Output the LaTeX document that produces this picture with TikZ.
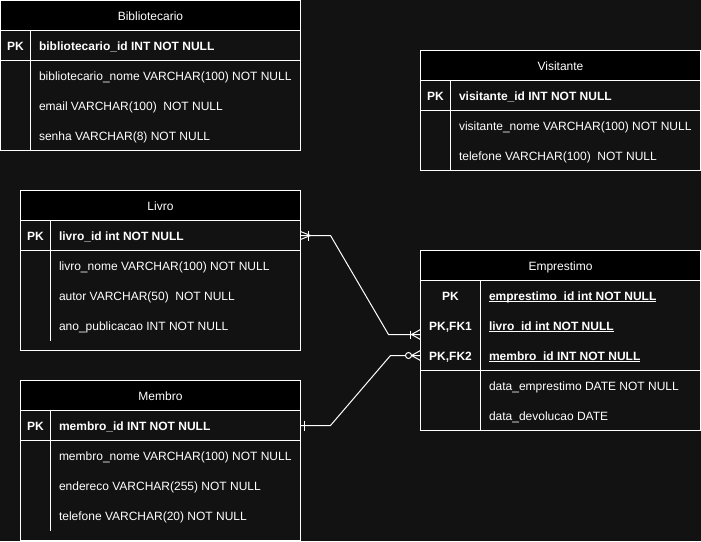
\documentclass[tikz,border=0pt]{standalone}
\usepackage{fontspec}
\setmainfont{Liberation Sans}
\usepackage{tikz}
\usetikzlibrary{positioning}
\definecolor{canvas}{HTML}{121212}
\def\fsz{\fontsize{12pt}{14pt}\selectfont}
\def\keyline#1{\setbox0\hbox{#1}\rlap{\rule[-1.6pt]{\wd0}{0.8pt}}\box0}

\begin{document}
\begin{tikzpicture}[x=1pt, y=1pt, line width=1pt, white, font=\fsz,
	title/.style={draw=white, fill=black, minimum height=30pt, inner sep=0pt, outer sep=0pt, text height=10pt, text depth=0pt, anchor=north west},
	field/.style={inner sep=0pt, text height=10pt, text depth=0pt, anchor=west},
	keyfield/.style={field, font=\fsz\bfseries},
	keytag/.style={inner sep=0pt, text height=10pt, text depth=0pt, font=\fsz\bfseries}]
	\fill[canvas] (-0.5pt, 0.5pt) rectangle (700.5pt, -540.5pt);
	\useasboundingbox (-0.5pt, 0.5pt) rectangle (700.5pt, -540.5pt);
	% Bibliotecario
	\node[title, minimum width=300pt] (bib) at (0pt, 0pt) {Bibliotecario};
	\draw (bib.south west) rectangle (300pt, -150pt);
	\draw (0pt, -60pt) -- (300pt, -60pt);
	\draw (30pt, -30pt) -- (30pt, -150pt);
	\node[keytag] (bib-pk) at (15pt, -45pt) {PK};
	\node[keyfield] (bib-id) at (38pt, -45pt) {bibliotecario\_id INT NOT NULL};
	\node[field] (bib-nome) at (38pt, -75pt) {bibliotecario\_nome VARCHAR(100) NOT NULL};
	\node[field] (bib-email) at (38pt, -105pt) {email VARCHAR(100) \ NOT NULL};
	\node[field] (bib-senha) at (38pt, -135pt) {senha VARCHAR(8) NOT NULL};
	% Visitante
	\node[title, minimum width=280pt] (vis) at (420pt, -50pt) {Visitante};
	\draw (vis.south west) rectangle (700pt, -170pt);
	\draw (420pt, -110pt) -- (700pt, -110pt);
	\draw (450pt, -80pt) -- (450pt, -170pt);
	\node[keytag] (vis-pk) at (435pt, -95pt) {PK};
	\node[keyfield] (vis-id) at (458pt, -95pt) {visitante\_id INT NOT NULL};
	\node[field] (vis-nome) at (458pt, -125pt) {visitante\_nome VARCHAR(100) NOT NULL};
	\node[field] (vis-tel) at (458pt, -155pt) {telefone VARCHAR(100) \ NOT NULL};
	% Livro
	\node[title, minimum width=280pt] (livro) at (20pt, -190pt) {Livro};
	\draw (livro.south west) rectangle (300pt, -350pt);
	\draw (20pt, -250pt) -- (300pt, -250pt);
	\draw (50pt, -220pt) -- (50pt, -340pt);
	\node[keytag] (livro-pk) at (35pt, -235pt) {PK};
	\node[keyfield] (livro-id) at (58pt, -235pt) {livro\_id int NOT NULL};
	\node[field] (livro-nome) at (58pt, -265pt) {livro\_nome VARCHAR(100) NOT NULL};
	\node[field] (livro-autor) at (58pt, -295pt) {autor VARCHAR(50) \ NOT NULL};
	\node[field] (livro-ano) at (58pt, -325pt) {ano\_publicacao INT NOT NULL};
	% Membro
	\node[title, minimum width=280pt] (membro) at (20pt, -380pt) {Membro};
	\draw (membro.south west) rectangle (300pt, -540pt);
	\draw (20pt, -440pt) -- (300pt, -440pt);
	\draw (50pt, -410pt) -- (50pt, -530pt);
	\node[keytag] (membro-pk) at (35pt, -425pt) {PK};
	\node[keyfield] (membro-id) at (58pt, -425pt) {membro\_id INT NOT NULL};
	\node[field] (membro-nome) at (58pt, -455pt) {membro\_nome VARCHAR(100) NOT NULL};
	\node[field] (membro-end) at (58pt, -485pt) {endereco VARCHAR(255) NOT NULL};
	\node[field] (membro-tel) at (58pt, -515pt) {telefone VARCHAR(20) NOT NULL};
	% Emprestimo
	\node[title, minimum width=280pt] (emp) at (420pt, -250pt) {Emprestimo};
	\draw (emp.south west) rectangle (700pt, -430pt);
	\draw (420pt, -370pt) -- (700pt, -370pt);
	\draw (480pt, -280pt) -- (480pt, -430pt);
	\node[keytag] (emp-pk) at (450pt, -295pt) {PK};
	\node[keytag] (emp-fk1) at (450pt, -325pt) {PK,FK1};
	\node[keytag] (emp-fk2) at (450pt, -355pt) {PK,FK2};
	\node[keyfield] (emp-id) at (488pt, -295pt) {\keyline{emprestimo\_id int NOT NULL}};
	\node[keyfield] (emp-livro) at (488pt, -325pt) {\keyline{livro\_id int NOT NULL}};
	\node[keyfield] (emp-membro) at (488pt, -355pt) {\keyline{membro\_id INT NOT NULL}};
	\node[field] (emp-data) at (488pt, -385pt) {data\_emprestimo DATE NOT NULL};
	\node[field] (emp-dev) at (488pt, -415pt) {data\_devolucao DATE};
	% relacoes
	\coordinate (livro-r) at (300pt, -235pt);
	\coordinate (emp-l1) at (420pt, -334pt);
	\coordinate (membro-r) at (300pt, -425pt);
	\coordinate (emp-l2) at (420pt, -355pt);
	\draw (livro-r) -- ++(30pt, 0pt) -- ([xshift=-32pt]emp-l1) -- (emp-l1);
	\draw (membro-r) -- ++(30pt, 0pt) -- ([xshift=-30pt]emp-l2) -- (emp-l2);
	\draw ([yshift=4pt]livro-r) -- ++(10pt, -4pt) -- ++(-10pt, -4pt);
	\draw ([xshift=8pt, yshift=5pt]livro-r) -- ++(0pt, -10pt);
	\draw ([yshift=5pt]emp-l1) -- ++(-9pt, -5pt) -- ++(9pt, -5pt);
	\draw ([xshift=-10pt, yshift=4pt]emp-l1) -- ++(0pt, -8pt);
	\draw ([xshift=4pt, yshift=5pt]membro-r) -- ++(0pt, -10pt);
	\draw ([yshift=5pt]emp-l2) -- ++(-9pt, -5pt) -- ++(9pt, -5pt);
	\draw[fill=canvas] ([xshift=-12pt]emp-l2) circle (3pt);
\end{tikzpicture}
\end{document}
